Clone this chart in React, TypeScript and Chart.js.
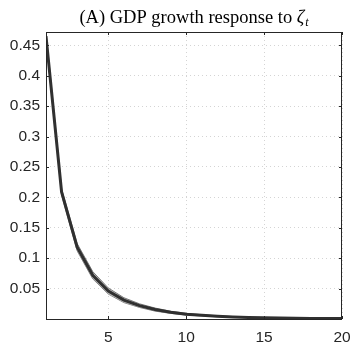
import React, { useEffect, useRef } from "react";
import { Chart, registerables } from "chart.js";

Chart.register(...registerables);

const horizons = [1, 2, 3, 4, 5, 6, 7, 8, 9, 10, 11, 12, 13, 14, 15, 16, 17, 18, 19, 20];
const response = [0.465, 0.209, 0.118, 0.072, 0.046, 0.031, 0.022, 0.0155, 0.011, 0.008, 0.006, 0.0045, 0.0034, 0.0026, 0.002, 0.0016, 0.0013, 0.001, 0.0008, 0.0007];
const upperBand = [0.470, 0.214, 0.124, 0.078, 0.051, 0.035, 0.025, 0.018, 0.0128, 0.0094, 0.007, 0.0053, 0.004, 0.003, 0.0023, 0.0019, 0.0015, 0.0012, 0.001, 0.0009];
const lowerBand = [0.460, 0.204, 0.112, 0.066, 0.041, 0.027, 0.019, 0.013, 0.0092, 0.0066, 0.005, 0.0037, 0.0028, 0.0022, 0.0017, 0.0013, 0.0011, 0.0008, 0.0006, 0.0005];
const xTicks = [5, 10, 15, 20];
const yTicks = [0.05, 0.1, 0.15, 0.2, 0.25, 0.3, 0.35, 0.4, 0.45];
const titleMain = "(A) GDP growth response to ";
const titleSym = "ζ";
const titleSub = "t";

const framePlugin = {
  id: "frame",
  afterDatasetsDraw(chart: any) {
    const { ctx, chartArea: a, scales } = chart;
    ctx.save();
    ctx.strokeStyle = "#262626";
    ctx.lineWidth = 1;
    ctx.strokeRect(a.left + 0.5, a.top + 0.5, a.right - a.left - 1, a.bottom - a.top);
    ctx.beginPath();
    const tl = 3;
    xTicks.forEach((v) => {
      const x = Math.round(scales.x.getPixelForValue(v)) + 0.5;
      ctx.moveTo(x, a.bottom);
      ctx.lineTo(x, a.bottom - tl);
      ctx.moveTo(x, a.top);
      ctx.lineTo(x, a.top + tl);
    });
    yTicks.forEach((v) => {
      const y = Math.round(scales.y.getPixelForValue(v)) + 0.5;
      ctx.moveTo(a.left, y);
      ctx.lineTo(a.left + tl, y);
      ctx.moveTo(a.right, y);
      ctx.lineTo(a.right - tl, y);
    });
    ctx.stroke();
    ctx.restore();
  },
  afterDraw(chart: any) {
    const { ctx, chartArea: a } = chart;
    ctx.save();
    ctx.fillStyle = "#000";
    ctx.textBaseline = "alphabetic";
    const mainFont = "18.5px 'Liberation Serif', serif";
    const symFont = "italic 18.5px 'Liberation Serif', serif";
    const subFont = "italic 12px 'Liberation Serif', serif";
    ctx.font = mainFont;
    const w1 = ctx.measureText(titleMain).width;
    ctx.font = symFont;
    const w2 = ctx.measureText(titleSym).width;
    ctx.font = subFont;
    const w3 = ctx.measureText(titleSub).width;
    const total = w1 + w2 + w3 + 1;
    const cx = (a.left + a.right) / 2;
    let x = cx - total / 2;
    const y = 23;
    ctx.font = mainFont;
    ctx.fillText(titleMain, x, y);
    x += w1;
    ctx.font = symFont;
    ctx.fillText(titleSym, x, y);
    x += w2 + 1;
    ctx.font = subFont;
    ctx.fillText(titleSub, x, y + 3);
    ctx.restore();
  },
};

export default function App() {
  const ref = useRef<HTMLCanvasElement>(null);
  useEffect(() => {
    if (!ref.current) return;
    const chart = new Chart(ref.current, {
      type: "line",
      data: {
        labels: horizons,
        datasets: [
          {
            label: "upper",
            data: horizons.map((h, i) => ({ x: h, y: upperBand[i] })),
            borderColor: "rgba(110,110,110,0.9)",
            borderWidth: 1,
            pointRadius: 0,
            fill: "+1",
            backgroundColor: "rgba(175,175,175,0.75)",
            order: 2,
          },
          {
            label: "lower",
            data: horizons.map((h, i) => ({ x: h, y: lowerBand[i] })),
            borderColor: "rgba(110,110,110,0.9)",
            borderWidth: 1,
            pointRadius: 0,
            fill: false,
            order: 2,
          },
          {
            label: "response",
            data: horizons.map((h, i) => ({ x: h, y: response[i] })),
            borderColor: "#303030",
            borderWidth: 3,
            pointRadius: 0,
            fill: false,
            order: 1,
          },
        ],
      },
      options: {
        responsive: false,
        animation: false,
        layout: { padding: { top: 32, right: 9, left: 0, bottom: 0 } },
        plugins: { legend: { display: false }, tooltip: { enabled: false }, title: { display: false } },
        scales: {
          x: {
            type: "linear",
            min: 1,
            max: 20,
            afterBuildTicks: (s: any) => {
              s.ticks = xTicks.map((v) => ({ value: v }));
            },
            afterFit: (s: any) => {
              s.height = 24;
              s.paddingLeft = 0;
              s.paddingRight = 0;
            },
            grid: { color: "#d4d4d4", drawTicks: false, lineWidth: 1 },
            border: { display: false, dash: [1, 3] },
            ticks: {
              color: "#262626",
              font: { family: "'Liberation Sans', Arial, sans-serif", size: 15.5 },
              padding: 9,
              maxRotation: 0,
              callback: (v: any) => String(v),
            },
          },
          y: {
            min: 0,
            max: 0.472,
            afterBuildTicks: (s: any) => {
              s.ticks = yTicks.map((v) => ({ value: v }));
            },
            afterFit: (s: any) => {
              s.width = 46;
              s.paddingTop = 0;
              s.paddingBottom = 0;
            },
            grid: { color: "#d4d4d4", drawTicks: false, lineWidth: 1 },
            border: { display: false, dash: [1, 3] },
            ticks: {
              color: "#262626",
              font: { family: "'Liberation Sans', Arial, sans-serif", size: 15.5 },
              padding: 6,
              callback: (v: any) => String(+Number(v).toFixed(2)),
            },
          },
        },
      },
      plugins: [framePlugin],
    });
    return () => chart.destroy();
  }, []);
  return (
    <div style={{ position: "fixed", left: 0, top: 0, width: 351, height: 343, background: "#fff" }}>
      <canvas ref={ref} width={351} height={343} style={{ display: "block", width: 351, height: 343 }} />
    </div>
  );
}
